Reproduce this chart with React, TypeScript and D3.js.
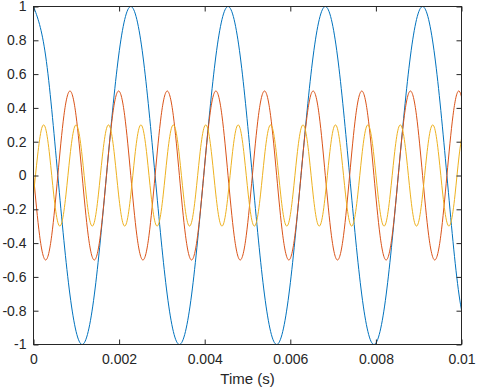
import React, { useEffect, useRef } from 'react'
import * as d3 from 'd3'

const WIDTH = 478
const HEIGHT = 390

// sample spacing (s) and signal values, 8 samples per period
const blueStep = 0.000284091
const blueValues = [
  1, 0.707, 0, -0.707, -1, -0.707, 0, 0.707,
  1, 0.707, 0, -0.707, -1, -0.707, 0, 0.707,
  1, 0.707, 0, -0.707, -1, -0.707, 0, 0.707,
  1, 0.707, 0, -0.707, -1, -0.707, 0, 0.707,
  1, 0.707, 0, -0.707, -1,
]

const orangeStep = 0.000142045
const orangeValues = [
  0, -0.354, -0.5, -0.354, 0, 0.354, 0.5, 0.354,
  0, -0.354, -0.5, -0.354, 0, 0.354, 0.5, 0.354,
  0, -0.354, -0.5, -0.354, 0, 0.354, 0.5, 0.354,
  0, -0.354, -0.5, -0.354, 0, 0.354, 0.5, 0.354,
  0, -0.354, -0.5, -0.354, 0, 0.354, 0.5, 0.354,
  0, -0.354, -0.5, -0.354, 0, 0.354, 0.5, 0.354,
  0, -0.354, -0.5, -0.354, 0, 0.354, 0.5, 0.354,
  0, -0.354, -0.5, -0.354, 0, 0.354, 0.5, 0.354,
  0, -0.354, -0.5, -0.354, 0, 0.354, 0.5, 0.354,
]

const yellowStep = 0.000094697
const yellowValues = [
  -0.115, 0.115, 0.277, 0.277, 0.115, -0.115, -0.277, -0.277,
  -0.115, 0.115, 0.277, 0.277, 0.115, -0.115, -0.277, -0.277,
  -0.115, 0.115, 0.277, 0.277, 0.115, -0.115, -0.277, -0.277,
  -0.115, 0.115, 0.277, 0.277, 0.115, -0.115, -0.277, -0.277,
  -0.115, 0.115, 0.277, 0.277, 0.115, -0.115, -0.277, -0.277,
  -0.115, 0.115, 0.277, 0.277, 0.115, -0.115, -0.277, -0.277,
  -0.115, 0.115, 0.277, 0.277, 0.115, -0.115, -0.277, -0.277,
  -0.115, 0.115, 0.277, 0.277, 0.115, -0.115, -0.277, -0.277,
  -0.115, 0.115, 0.277, 0.277, 0.115, -0.115, -0.277, -0.277,
  -0.115, 0.115, 0.277, 0.277, 0.115, -0.115, -0.277, -0.277,
  -0.115, 0.115, 0.277, 0.277, 0.115, -0.115, -0.277, -0.277,
  -0.115, 0.115, 0.277, 0.277, 0.115, -0.115, -0.277, -0.277,
  -0.115, 0.115, 0.277, 0.277, 0.115, -0.115, -0.277, -0.277,
  -0.115, 0.115, 0.277,
]

const xTicks = [0, 0.002, 0.004, 0.006, 0.008, 0.01]
const yTicks = [-1, -0.8, -0.6, -0.4, -0.2, 0, 0.2, 0.4, 0.6, 0.8, 1]
const xLabel = 'Time (s)'

const series = [
  { step: blueStep, values: blueValues, color: '#0072BD' },
  { step: orangeStep, values: orangeValues, color: '#D95319' },
  { step: yellowStep, values: yellowValues, color: '#EDB120' },
]

const AXIS_COLOR = '#262626'
const FONT = '"Liberation Sans", Arial, Helvetica, sans-serif'

export default function App() {
  const ref = useRef<SVGSVGElement>(null)

  useEffect(() => {
    const svg = d3.select(ref.current)
    svg.selectAll('*').remove()

    const left = 33.5
    const right = 461.5
    const top = 6.5
    const bottom = 344.5

    const x = d3.scaleLinear().domain([0, 0.01]).range([left, right])
    const y = d3.scaleLinear().domain([-1, 1]).range([bottom, top])

    svg
      .append('defs')
      .append('clipPath')
      .attr('id', 'plot-clip')
      .append('rect')
      .attr('x', left)
      .attr('y', top - 1)
      .attr('width', right - left)
      .attr('height', bottom - top + 2)

    svg
      .append('rect')
      .attr('x', left)
      .attr('y', top)
      .attr('width', right - left)
      .attr('height', bottom - top)
      .attr('fill', '#fff')

    const line = d3
      .line<number>()
      .x((d, i) => x(i * currentStep))
      .y(d => y(d))
      .curve(d3.curveNatural)

    let currentStep = 0
    const lines = svg.append('g').attr('clip-path', 'url(#plot-clip)')
    series.forEach(s => {
      currentStep = s.step
      lines
        .append('path')
        .attr('d', line(s.values))
        .attr('fill', 'none')
        .attr('stroke', s.color)
        .attr('stroke-width', 1)
    })

    const fmtY = (d: number) => (d === 0 ? '0' : String(+d.toFixed(1)))
    const fmtX = (d: number) => (d === 0 ? '0' : String(+d.toFixed(3)))

    const styleAxis = (g: any) => {
      g.select('.domain').remove()
      g.selectAll('.tick line').attr('stroke', AXIS_COLOR)
      g.selectAll('.tick text')
        .attr('fill', AXIS_COLOR)
        .style('font-family', FONT)
        .style('font-size', '14px')
    }

    svg
      .append('g')
      .attr('transform', `translate(${left},0)`)
      .call(d3.axisLeft(y).tickValues(yTicks).tickSize(-5).tickPadding(7).tickFormat(fmtY as any))
      .call(styleAxis)

    svg
      .append('g')
      .attr('transform', `translate(${right},0)`)
      .call(d3.axisRight(y).tickValues(yTicks).tickSize(-5).tickFormat(() => ''))
      .call(styleAxis)

    svg
      .append('g')
      .attr('transform', `translate(0,${bottom})`)
      .call(d3.axisBottom(x).tickValues(xTicks).tickSize(-5).tickPadding(10).tickFormat(fmtX as any))
      .call(styleAxis)

    svg
      .append('g')
      .attr('transform', `translate(0,${top})`)
      .call(d3.axisTop(x).tickValues(xTicks).tickSize(-5).tickFormat(() => ''))
      .call(styleAxis)

    svg
      .append('rect')
      .attr('x', left)
      .attr('y', top)
      .attr('width', right - left)
      .attr('height', bottom - top)
      .attr('fill', 'none')
      .attr('stroke', AXIS_COLOR)
      .attr('stroke-width', 1)

    svg
      .append('text')
      .attr('x', (left + right) / 2)
      .attr('y', 384)
      .attr('text-anchor', 'middle')
      .attr('fill', AXIS_COLOR)
      .style('font-family', FONT)
      .style('font-size', '15px')
      .text(xLabel)
  }, [])

  return (
    <div style={{ position: 'absolute', left: 0, top: 0, width: WIDTH, height: HEIGHT, background: '#fff' }}>
      <svg ref={ref} width={WIDTH} height={HEIGHT} style={{ display: 'block' }} />
    </div>
  )
}
